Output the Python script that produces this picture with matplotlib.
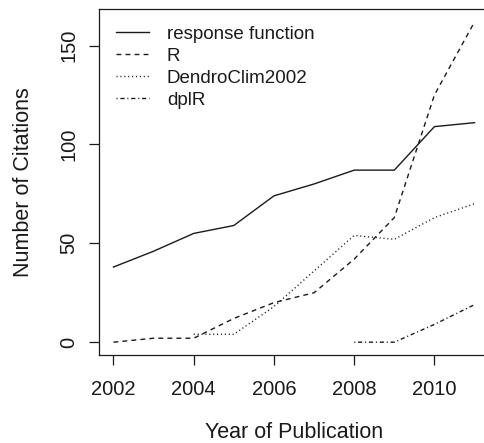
import matplotlib
matplotlib.use("Agg")
import matplotlib.pyplot as plt

plt.rcParams['font.family'] = ['Liberation Sans', 'DejaVu Sans']

# citations per year
years = [2002, 2003, 2004, 2005, 2006, 2007, 2008, 2009, 2010, 2011]
response_function = [38, 46, 55, 59, 74, 80, 87, 87, 109, 111]
r_cites = [0, 2, 2, 12, 20, 25, 42, 63, 125, 162]
dendro_years = [2004, 2005, 2006, 2007, 2008, 2009, 2010, 2011]
dendroclim = [4, 4, 18, 36, 54, 52, 63, 70]
dplr_years = [2008, 2009, 2010, 2011]
dplr = [0, 0, 9, 19]

x_ticks = [2002, 2004, 2006, 2008, 2010]
y_ticks = [0, 50, 100, 150]

fig = plt.figure(figsize=(4.85, 4.43), dpi=100)
# box runs off the right edge of the picture, as in the original
ax = fig.add_axes([99 / 485, 88 / 443, 390 / 485, 346 / 443])

lw = 1.0
col = '#1a1a1a'
ax.plot(years, response_function, color=col, lw=lw, label='response function')
l2, = ax.plot(years, r_cites, color=col, lw=lw, label='R')
l2.set_dashes([3.5, 3])
l3, = ax.plot(dendro_years, dendroclim, color=col, lw=lw, label='DendroClim2002')
l3.set_dashes([0.8, 2.0])
l4, = ax.plot(dplr_years, dplr, color=col, lw=lw, label='dplR')
l4.set_dashes([0.8, 2.0, 3.0, 2.0])

# R style 4% padding
xr = 2011 - 2002
ax.set_xlim(2002 - 0.04 * xr, 2011 + 0.04 * xr)
yr = 162
ax.set_ylim(-0.04 * yr, yr * 1.04)

ax.set_xticks(x_ticks)
ax.set_yticks(y_ticks)
ax.set_xticklabels([str(t) for t in x_ticks])
ax.set_yticklabels([str(t) for t in y_ticks], rotation=90, va='center')
ax.tick_params(direction='out', length=7, width=0.9, labelsize=14.5, color=col, labelcolor=col)
ax.tick_params(axis='x', pad=11)
ax.tick_params(axis='y', pad=8)
for s in ax.spines.values():
    s.set_linewidth(0.9)
    s.set_color(col)

# axis titles placed like R's mtext lines
fig.text(294 / 485, 1 - 432 / 443, 'Year of Publication', fontsize=15.5, color=col,
         ha='center', va='center')
fig.text(24 / 485, 1 - 182 / 443, 'Number of Citations', fontsize=15.5, color=col,
         ha='center', va='center', rotation=90)

ax.legend(loc='upper left', frameon=False, fontsize=13.5, handlelength=1.76,
          handletextpad=0.96, labelspacing=0.26, borderaxespad=0.5, labelcolor=col)

fig.savefig('out.png', dpi=100)
